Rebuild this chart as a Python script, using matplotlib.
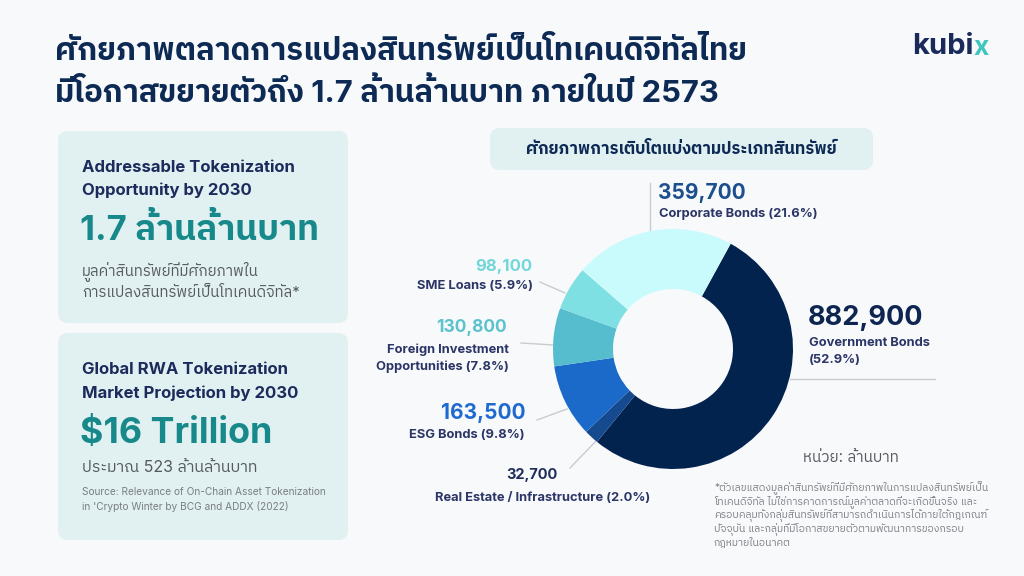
import matplotlib
matplotlib.use("Agg")
import matplotlib.pyplot as plt
from matplotlib.patches import FancyBboxPatch

# fonts: Inter for latin, Thai glyphs fall back to IBM Plex Sans Thai
FONT = ['Inter', 'IBM Plex Sans Thai', 'Noto Sans Thai', 'DejaVu Sans']
plt.rcParams['font.family'] = FONT

# ---- data (unit: million baht) ----
categories = ['Government Bonds', 'Real Estate / Infrastructure', 'ESG Bonds',
              'Foreign Investment\nOpportunities', 'SME Loans', 'Corporate Bonds']
values = [882900, 32700, 163500, 130800, 98100, 359700]
shares = [52.9, 2.0, 9.8, 7.8, 5.9, 21.6]
colors = ['#03234f', '#164a8e', '#1b69c9', '#56bdcf', '#7fe0e4', '#c9fbfd']
num_colors = ['#0d2550', '#1f2d5a', '#1e6ad0', '#5cc2cd', '#73d6d9', '#1d4f8f']

title_lines = ['ศักยภาพตลาดการแปลงสินทรัพย์เป็นโทเคนดิจิทัลไทย',
               'มีโอกาสขยายตัวถึง 1.7 ล้านล้านบาท ภายในปี 2573']
chart_title = 'ศักยภาพการเติบโตแบ่งตามประเภทสินทรัพย์'
unit_text = 'หน่วย: ล้านบาท'
footnote = ['*ตัวเลขแสดงมูลค่าสินทรัพย์ที่มีศักยภาพในการแปลงสินทรัพย์เป็น',
            'โทเคนดิจิทัล ไม่ใช่การคาดการณ์มูลค่าตลาดที่จะเกิดขึ้นจริง และ',
            'ครอบคลุมทั้งกลุ่มสินทรัพย์ที่สามารถดำเนินการได้ภายใต้กฎเกณฑ์',
            'ปัจจุบัน และกลุ่มที่มีโอกาสขยายตัวตามพัฒนาการของกรอบ',
            'กฎหมายในอนาคต']

NAVY = '#0d2a55'
LABEL = '#2b3566'
TEAL = '#17898a'
GREY = '#555a60'
LGREY = '#7a7f85'
BOX = '#e1f0f1'
BG = '#f8f9fb'

fig = plt.figure(figsize=(10.24, 5.76), dpi=100, facecolor=BG)
bg = fig.add_axes([0, 0, 1, 1])
bg.set_xlim(0, 1024)
bg.set_ylim(576, 0)
bg.axis('off')

# title
bg.text(55, 52, title_lines[0], fontsize=22.3, fontweight='bold', color=NAVY, va='center')
bg.text(55, 93, title_lines[1], fontsize=22.3, fontweight='bold', color=NAVY, va='center')

# logo
bg.text(912, 47, 'kubi', fontsize=21, fontweight='bold', color='#1a2a5a', va='center')
bg.text(973, 48, 'x', fontsize=19, fontweight='bold', color='#3cc7c0', va='center')

def box(x0, y0, x1, y1):
    p = FancyBboxPatch((x0, y0), x1 - x0, y1 - y0, boxstyle='round,pad=0,rounding_size=10',
                       facecolor=BOX, edgecolor='none')
    bg.add_patch(p)

box(58, 131, 348, 323)
box(58, 333, 348, 540)
box(490, 128, 873, 170)

# left card 1
bg.text(82, 168, 'Addressable Tokenization', fontsize=12, fontweight='bold', color='#1d2b5c', va='center')
bg.text(82, 190, 'Opportunity by 2030', fontsize=12, fontweight='bold', color='#1d2b5c', va='center')
bg.text(80, 230, '1.7 ล้านล้านบาท', fontsize=25, fontweight='bold', color=TEAL, va='center')
bg.text(82, 272, 'มูลค่าสินทรัพย์ที่มีศักยภาพใน', fontsize=10.8, color=GREY, va='center')
bg.text(82, 293, 'การแปลงสินทรัพย์เป็นโทเคนดิจิทัล*', fontsize=10.8, color=GREY, va='center')

# left card 2
bg.text(82, 370, 'Global RWA Tokenization', fontsize=12, fontweight='bold', color='#1d2b5c', va='center')
bg.text(82, 393, 'Market Projection by 2030', fontsize=12, fontweight='bold', color='#1d2b5c', va='center')
bg.text(80, 433, '$16 Trillion', fontsize=25.8, fontweight='bold', color=TEAL, va='center')
bg.text(82, 467, 'ประมาณ 523 ล้านล้านบาท', fontsize=11.5, color=GREY, va='center')
bg.text(82, 492, 'Source: Relevance of On-Chain Asset Tokenization', fontsize=7.3, color=LGREY, va='center')
bg.text(82, 507, "in 'Crypto Winter by BCG and ADDX (2022)", fontsize=7.3, color=LGREY, va='center')

# chart header
bg.text(681, 149, chart_title, fontsize=12, fontweight='bold', color=NAVY, ha='center', va='center')

# donut
cx, cy, R = 673, 349, 120
ax = fig.add_axes([(cx - R) / 1024, (576 - cy - R) / 576, 2 * R / 1024, 2 * R / 576])
ax.pie(values, colors=colors, startangle=61.3, counterclock=False,
       wedgeprops=dict(width=0.5, edgecolor='none'))
ax.set_xlim(-1, 1)
ax.set_ylim(-1, 1)
ax.axis('off')

# label layout: number x, number y, label x, label y, ha, number size, connector
lay = {
    0: (808, 318, 809, 343, 'left', 19.5, [(790, 379), (935, 379)]),
    1: (532, 475, 543, 498, 'center', 10.5, [(570, 468), (597, 440)]),
    2: (525, 413, 525, 435, 'right', 15, [(537, 420), (567, 409)]),
    3: (507, 327, 509, 350, 'right', 12.5, [(521, 343), (553, 345)]),
    4: (532, 267, 533, 286, 'right', 12, [(540, 282), (565, 293)]),
    5: (658, 193, 659, 214, 'left', 15, [(650, 183), (650, 232)]),
}
for i, name in enumerate(categories):
    x, y, lx, ly, ha, fs, seg = lay[i]
    bg.plot([seg[0][0], seg[1][0]], [seg[0][1], seg[1][1]], color='#c8ccd0', lw=1)
    bg.text(x, y, f'{values[i]:,}', fontsize=fs, fontweight='bold', color=num_colors[i],
            ha=ha, va='center')
    lab = f'{name} ({shares[i]:.1f}%)'
    if i == 0:
        lab = f'{name}\n({shares[i]:.1f}%)'
    for k, part in enumerate(lab.split('\n')):
        bg.text(lx, ly + k * 17, part, fontsize=9.3, fontweight='bold', color=LABEL,
                ha=ha, va='center')

# unit and footnote
bg.text(803, 458, unit_text, fontsize=11, color=GREY, va='center')
for k, line in enumerate(footnote):
    bg.text(714, 488 + k * 13.5, line, fontsize=7.5, color=LGREY, va='center')

fig.savefig('out.png', dpi=100, facecolor=BG)
